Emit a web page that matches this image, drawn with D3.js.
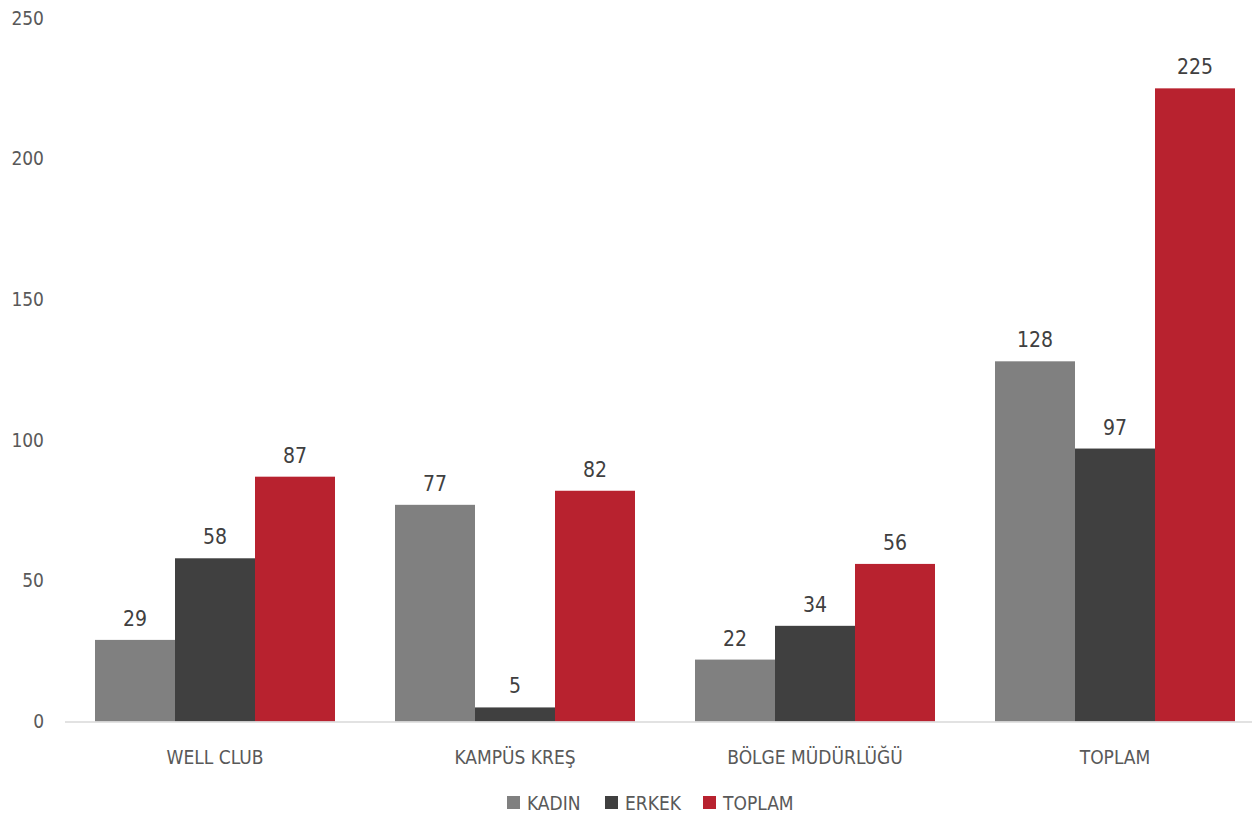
<!DOCTYPE html>
<html>
<head>
<meta charset="utf-8">
<script src="https://cdn.jsdelivr.net/npm/d3@7"></script>
<style>
  body { margin: 0; background: #fff; }
  text { font-family: "Liberation Sans Narrow", "DejaVu Sans Condensed", "Roboto", sans-serif; font-stretch: condensed; }
</style>
</head>
<body>
<div id="viz"></div>
<script>
// chart data
let categories = ["WELL CLUB", "KAMPÜS KREŞ", "BÖLGE MÜDÜRLÜĞÜ", "TOPLAM"];
let seriesNames = ["KADIN", "ERKEK", "TOPLAM"];
let kadin = [29, 77, 22, 128];
let erkek = [58, 5, 34, 97];
let toplam = [87, 82, 56, 225];
let yTicks = [0, 50, 100, 150, 200, 250];

let colours = ["#808080", "#404040", "#B8222F"];
let width = 1252, height = 818;

let rows = categories.map((c, i) => ({
  cat: c,
  values: [kadin[i], erkek[i], toplam[i]]
}));

let svg = d3.select("#viz").append("svg")
  .attr("width", width)
  .attr("height", height);

// scales
let x0 = d3.scaleBand()
  .domain(categories)
  .range([65, 1265])
  .paddingInner(0.2)
  .paddingOuter(0.1);

let x1 = d3.scaleBand()
  .domain(seriesNames)
  .range([0, x0.bandwidth()]);

let y = d3.scaleLinear()
  .domain([0, 250])
  .range([721.5, 18]);

// y tick labels
svg.append("g")
  .selectAll("text")
  .data(yTicks)
  .join("text")
  .attr("x", 44)
  .attr("y", d => y(d))
  .attr("dy", "0.35em")
  .attr("text-anchor", "end")
  .attr("fill", "#595959")
  .attr("font-size", 19)
  .text(d => d);

// bars
let groups = svg.append("g")
  .selectAll("g")
  .data(rows)
  .join("g")
  .attr("transform", d => `translate(${x0(d.cat)},0)`);

groups.selectAll("rect")
  .data(d => d.values.map((v, i) => ({ key: seriesNames[i], value: v, i: i })))
  .join("rect")
  .attr("x", d => x1(d.key))
  .attr("y", d => y(d.value))
  .attr("width", x1.bandwidth())
  .attr("height", d => y(0) - y(d.value))
  .attr("fill", d => colours[d.i]);

groups.selectAll("text.val")
  .data(d => d.values.map((v, i) => ({ key: seriesNames[i], value: v, i: i })))
  .join("text")
  .attr("class", "val")
  .attr("x", d => x1(d.key) + x1.bandwidth() / 2)
  .attr("y", d => y(d.value) - 14)
  .attr("text-anchor", "middle")
  .attr("fill", "#404040")
  .attr("font-size", 21)
  .attr("font-weight", 500)
  .text(d => d.value);

// baseline
svg.append("line")
  .attr("x1", 65)
  .attr("x2", width)
  .attr("y1", y(0) + 0.5)
  .attr("y2", y(0) + 0.5)
  .attr("stroke", "#d9d9d9")
  .attr("stroke-width", 1.5);

// category labels
svg.append("g")
  .selectAll("text")
  .data(categories)
  .join("text")
  .attr("x", d => x0(d) + x0.bandwidth() / 2)
  .attr("y", 764)
  .attr("text-anchor", "middle")
  .attr("fill", "#595959")
  .attr("font-size", 19)
  .text(d => d);

// legend
let legendX = [507, 605, 703];
let legend = svg.append("g")
  .selectAll("g")
  .data(seriesNames)
  .join("g")
  .attr("transform", (d, i) => `translate(${legendX[i]},796)`);

legend.append("rect")
  .attr("width", 13)
  .attr("height", 13)
  .attr("fill", (d, i) => colours[i]);

legend.append("text")
  .attr("x", 20)
  .attr("y", 14)
  .attr("fill", "#595959")
  .attr("font-size", 19)
  .text(d => d);
</script>
</body>
</html>
